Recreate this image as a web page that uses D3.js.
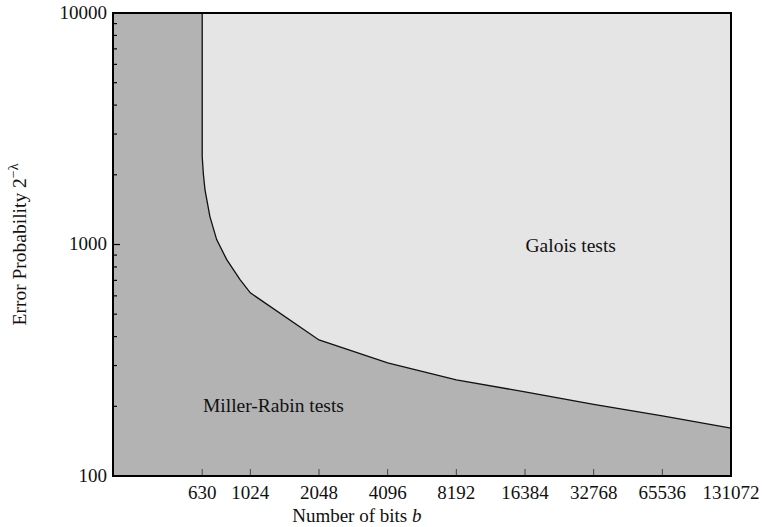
<!DOCTYPE html>
<html>
<head>
<meta charset="utf-8">
<script src="https://cdn.jsdelivr.net/npm/d3@7"></script>
<style>
  body { margin: 0; background: #fff; }
  text { font-family: "Liberation Serif", serif; fill: #111; }
</style>
</head>
<body>
<div id="chart"></div>
<script>
// boundary between the two regions (bits, lambda)
var boundaryBits   = [630, 630, 637, 648, 681, 729, 807, 923, 1024, 2048, 4096, 8192, 16384, 32768, 65536, 131072];
var boundaryLambda = [10000, 2400, 2030, 1720, 1320, 1050, 860, 705, 618, 387, 308, 260, 231, 204, 182, 161];

var xTicks = [630, 1024, 2048, 4096, 8192, 16384, 32768, 65536, 131072];
var yMajor = [100, 1000, 10000];
var yMinor = [200, 300, 400, 500, 600, 700, 800, 900, 2000, 3000, 4000, 5000, 6000, 7000, 8000, 9000];

var regionLabels = ["Galois tests", "Miller-Rabin tests"];
var regionPos = [[26000, 980], [635, 200]];

var width = 763, height = 527;
var margin = { top: 13, right: 32, bottom: 51, left: 113 };
var w = width - margin.left - margin.right,
    h = height - margin.top - margin.bottom;

var svg = d3.select("#chart")
    .append("svg")
    .attr("width", width)
    .attr("height", height);

var g = svg.append("g")
    .attr("transform", "translate(" + margin.left + "," + margin.top + ")");

var x = d3.scaleLog().base(2).domain([256, 131072]).range([0, w]);
var y = d3.scaleLog().domain([100, 10000]).range([h, 0]);

var points = boundaryBits.map(function(b, i) { return [b, boundaryLambda[i]]; });

g.append("defs").append("clipPath")
    .attr("id", "clip")
    .append("rect")
    .attr("width", w)
    .attr("height", h);

var plot = g.append("g").attr("clip-path", "url(#clip)");

// Miller-Rabin region (background)
plot.append("rect")
    .attr("width", w)
    .attr("height", h)
    .attr("fill", "#b3b3b3");

// Galois region
var areaPts = points.concat([[131072, 10000]]);
var line = d3.line()
    .x(function(d) { return x(d[0]); })
    .y(function(d) { return y(d[1]); });

plot.append("path")
    .attr("d", line(areaPts) + "Z")
    .attr("fill", "#e5e5e5");

plot.append("path")
    .attr("d", line(points))
    .attr("fill", "none")
    .attr("stroke", "#111")
    .attr("stroke-width", 1.3);

// x ticks (inside, bottom)
g.selectAll(".xtick")
    .data(xTicks)
    .enter().append("line")
    .attr("class", "xtick")
    .attr("x1", function(d) { return x(d); })
    .attr("x2", function(d) { return x(d); })
    .attr("y1", h)
    .attr("y2", h - 7)
    .attr("stroke", "#444")
    .attr("stroke-width", 1);

g.selectAll(".xlabel")
    .data(xTicks)
    .enter().append("text")
    .attr("class", "xlabel")
    .attr("x", function(d) { return x(d); })
    .attr("y", h + 23)
    .attr("text-anchor", "middle")
    .style("font-size", "19px")
    .text(function(d) { return d; });

// y ticks (inside, left)
g.selectAll(".ymajor")
    .data(yMajor)
    .enter().append("line")
    .attr("x1", 0)
    .attr("x2", 7)
    .attr("y1", function(d) { return y(d); })
    .attr("y2", function(d) { return y(d); })
    .attr("stroke", "#000")
    .attr("stroke-width", 1.2);

g.selectAll(".yminor")
    .data(yMinor)
    .enter().append("line")
    .attr("x1", 0)
    .attr("x2", 4)
    .attr("y1", function(d) { return y(d); })
    .attr("y2", function(d) { return y(d); })
    .attr("stroke", "#000")
    .attr("stroke-width", 1.2);

g.selectAll(".ylabel")
    .data(yMajor)
    .enter().append("text")
    .attr("x", -6)
    .attr("y", function(d) { return y(d); })
    .attr("dy", "0.3em")
    .attr("text-anchor", "end")
    .style("font-size", "19px")
    .text(function(d) { return d; });

// frame
g.append("rect")
    .attr("width", w)
    .attr("height", h)
    .attr("fill", "none")
    .attr("stroke", "#000")
    .attr("stroke-width", 2);

// region labels
g.selectAll(".region")
    .data(regionLabels)
    .enter().append("text")
    .attr("x", function(d, i) { return x(regionPos[i][0]); })
    .attr("y", function(d, i) { return y(regionPos[i][1]); })
    .attr("dy", "0.3em")
    .attr("text-anchor", function(d, i) { return i === 0 ? "middle" : "start"; })
    .style("font-size", "19.5px")
    .text(function(d) { return d; });

// axis titles
var xt = svg.append("text")
    .attr("x", margin.left + x(3000))
    .attr("y", 522)
    .attr("text-anchor", "middle")
    .style("font-size", "19px");
xt.append("tspan").text("Number of bits ");
xt.append("tspan").style("font-style", "italic").text("b");

var yt = svg.append("text")
    .attr("transform", "translate(26," + (margin.top + y(1000)) + ") rotate(-90)")
    .attr("text-anchor", "middle")
    .style("font-size", "19.5px");
yt.append("tspan").text("Error Probability 2");
yt.append("tspan")
    .attr("dy", -8)
    .style("font-size", "14px")
    .text("\u2212\u03bb");
</script>
</body>
</html>
